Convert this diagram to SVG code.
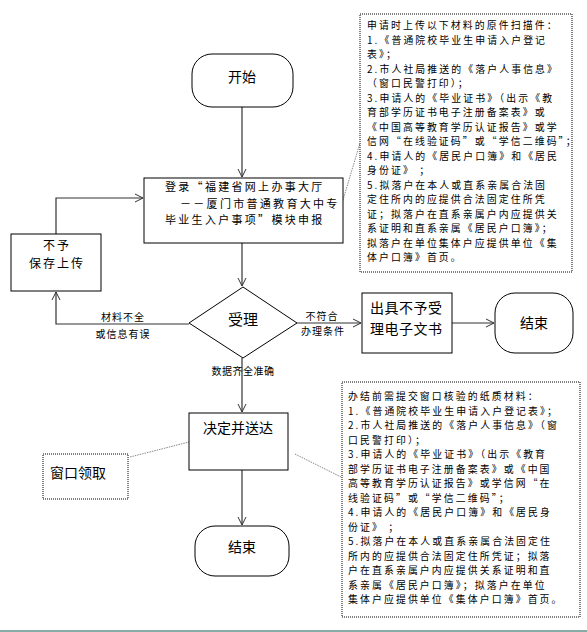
<svg xmlns="http://www.w3.org/2000/svg" width="587" height="632" viewBox="0 0 587 632">
<defs>
<marker id="arr" markerWidth="10" markerHeight="10" refX="9" refY="5" orient="auto" markerUnits="userSpaceOnUse">
<path d="M1,1 L9,5 L1,9" fill="none" stroke="#333" stroke-width="1"/>
</marker>
</defs>
<style>
text{font-family:"Noto Sans CJK SC","Noto Sans CJK JP",sans-serif;fill:#000}
.node{fill:#fff;stroke:#000;stroke-width:1}
.note{fill:#fff;stroke:#000;stroke-width:1;stroke-dasharray:1,1}
.conn{fill:none;stroke:#333;stroke-width:1.2}
.dot{fill:none;stroke:#888;stroke-width:1;stroke-dasharray:1.5,1}
.t14{font-size:14px}
.t15{font-size:15px}
.tl{font-size:11px;letter-spacing:2.3px}
.tb{font-size:12px;letter-spacing:2px}
.t12{font-size:9.9px;letter-spacing:2.1px}
.lab{font-size:10px}
</style>
<rect width="587" height="632" fill="#fff"/>
<g id="connectors">
<path class="conn" d="M242,107 V177" marker-end="url(#arr)"/>
<path class="conn" d="M242,243 V286" marker-end="url(#arr)"/>
<path class="conn" d="M189,324 H56 V292" marker-end="url(#arr)"/>
<path class="conn" d="M56,234 V198 H143" marker-end="url(#arr)"/>
<path class="conn" d="M297,323 H361" marker-end="url(#arr)"/>
<path class="conn" d="M452,323 H494" marker-end="url(#arr)"/>
<path class="conn" d="M242,358 V412" marker-end="url(#arr)"/>
<path class="conn" d="M242,470 V525" marker-end="url(#arr)"/>
<path class="dot" d="M340,210 L360,143"/>
<path class="dot" d="M130,457 L189,442"/>
<path class="dot" d="M295,454 L341,477"/>
<text class="lab" x="123" y="321" text-anchor="middle" letter-spacing="1">材料不全</text>
<text class="lab" x="123" y="338" text-anchor="middle" letter-spacing="1">或信息有误</text>
<text class="lab" x="322" y="320" text-anchor="middle" letter-spacing="1">不符合</text>
<text class="lab" x="323" y="335" text-anchor="middle" letter-spacing="1">办理条件</text>
<text class="lab" x="243" y="375" text-anchor="middle" letter-spacing="0.5">数据齐全准确</text>
</g>
<g id="start">
<rect class="node" x="192" y="54" width="101" height="53" rx="20"/>
<text class="t14" x="242" y="82" text-anchor="middle">开始</text>
</g>
<g id="login">
<rect class="node" x="144" y="178" width="199" height="65"/>
<text class="tl" x="165" y="191">登录“福建省网上办事大厅</text>
<text class="tl" x="180" y="207.5">－－厦门市普通教育大中专</text>
<text class="tl" x="165" y="224">毕业生入户事项”模块申报</text>
</g>
<g id="reject-save">
<rect class="node" x="11" y="234" width="90" height="57"/>
<text class="tb" x="57" y="250" text-anchor="middle">不予</text>
<text class="tb" x="57" y="268" text-anchor="middle">保存上传</text>
</g>
<g id="accept">
<path class="node" d="M189,323 L243,287 L297,323 L243,358 Z"/>
<text class="t15" x="243" y="325" text-anchor="middle">受理</text>
</g>
<g id="reject-doc">
<rect class="node" x="362" y="293" width="90" height="60"/>
<text class="t14" x="370" y="313" letter-spacing="0.5">出具不予受</text>
<text class="t14" x="370" y="334" letter-spacing="0.5">理电子文书</text>
</g>
<g id="end1">
<rect class="node" x="495" y="293" width="78" height="60" rx="20"/>
<text class="t14" x="534" y="328" text-anchor="middle">结束</text>
</g>
<g id="decide">
<rect class="node" x="189" y="413" width="99" height="57"/>
<text class="t14" x="238" y="433" text-anchor="middle">决定并送达</text>
</g>
<g id="end2">
<rect class="node" x="195" y="526" width="94" height="50" rx="20"/>
<text class="t14" x="242" y="552" text-anchor="middle">结束</text>
</g>
<g id="window">
<rect class="note" x="43" y="454" width="85" height="45"/>
<text class="t14" x="50" y="478">窗口领取</text>
</g>
<g id="note-upload">
<rect class="note" x="360" y="14" width="212" height="258"/>
<text class="t12" x="367" y="29">申请时上传以下材料的原件扫描件：</text>
<text class="t12" x="367" y="43.5">1.《普通院校毕业生申请入户登记</text>
<text class="t12" x="367" y="58">表》；</text>
<text class="t12" x="367" y="72.5">2.市人社局推送的《落户人事信息》</text>
<text class="t12" x="367" y="87">（窗口民警打印）；</text>
<text class="t12" x="367" y="101.5">3.申请人的《毕业证书》（出示《教</text>
<text class="t12" x="367" y="116">育部学历证书电子注册备案表》或</text>
<text class="t12" x="367" y="130.5">《中国高等教育学历认证报告》或学</text>
<text class="t12" x="367" y="145">信网“在线验证码”或“学信二维码”；</text>
<text class="t12" x="367" y="159.5">4.申请人的《居民户口簿》和《居民</text>
<text class="t12" x="367" y="174">身份证》 ；</text>
<text class="t12" x="367" y="188.5">5.拟落户在本人或直系亲属合法固</text>
<text class="t12" x="367" y="203">定住所内的应提供合法固定住所凭</text>
<text class="t12" x="367" y="217.5">证；拟落户在直系亲属户内应提供关</text>
<text class="t12" x="367" y="232">系证明和直系亲属《居民户口簿》；</text>
<text class="t12" x="367" y="246.5">拟落户在单位集体户应提供单位《集</text>
<text class="t12" x="367" y="261">体户口簿》首页。</text>
</g>
<g id="note-paper">
<rect class="note" x="342" y="382" width="238" height="235"/>
<text class="t12" x="348" y="400">办结前需提交窗口核验的纸质材料：</text>
<text class="t12" x="348" y="414.5">1.《普通院校毕业生申请入户登记表》；</text>
<text class="t12" x="348" y="429">2.市人社局推送的《落户人事信息》（窗</text>
<text class="t12" x="348" y="443.5">口民警打印）；</text>
<text class="t12" x="348" y="458">3.申请人的《毕业证书》（出示《教育</text>
<text class="t12" x="348" y="472.5">部学历证书电子注册备案表》或《中国</text>
<text class="t12" x="348" y="487">高等教育学历认证报告》或学信网“在</text>
<text class="t12" x="348" y="501.5">线验证码”或“学信二维码”；</text>
<text class="t12" x="348" y="516">4.申请人的《居民户口簿》和《居民身</text>
<text class="t12" x="348" y="530.5">份证》 ；</text>
<text class="t12" x="348" y="545">5.拟落户在本人或直系亲属合法固定住</text>
<text class="t12" x="348" y="559.5">所内的应提供合法固定住所凭证；拟落</text>
<text class="t12" x="348" y="574">户在直系亲属户内应提供关系证明和直</text>
<text class="t12" x="348" y="588.5">系亲属《居民户口簿》；拟落户在单位</text>
<text class="t12" x="348" y="603">集体户应提供单位《集体户口簿》首页。</text>
</g>
<line x1="0" y1="631" x2="587" y2="631" stroke="#5f8f8a" stroke-width="1.5"/>
</svg>
